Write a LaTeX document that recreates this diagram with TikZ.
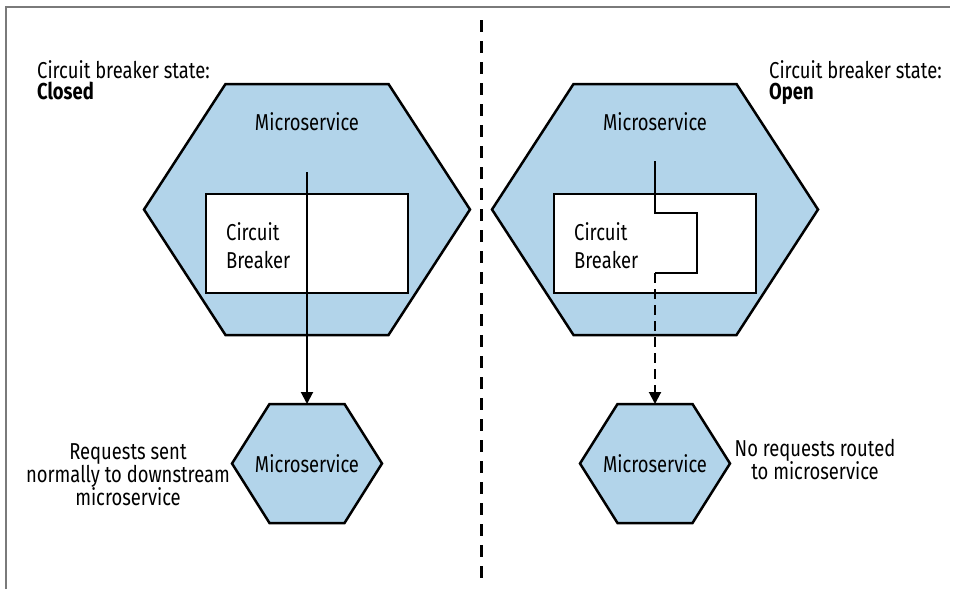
\documentclass[tikz,border=0pt]{standalone}
\usepackage{fontspec}
\setmainfont{Fira Sans}[FakeStretch=0.80]
\usepackage{tikz}
\usetikzlibrary{arrows.meta, positioning, calc, backgrounds}
\definecolor{svcblue}{HTML}{B2D4EA}
\definecolor{framegray}{HTML}{7A7A7A}

\begin{document}
\begin{tikzpicture}[
    x=1pt, y=-1pt,
    every node/.style={font=\fontsize{23}{23}\selectfont},
    hexcell/.style={
        inner sep=0pt, outer sep=0pt,
        minimum width=#1
    },
    hexline/.style={draw=black, fill=svcblue, line width=2.5pt, line join=miter},
    cbbox/.style={
        rectangle, draw=black, fill=white, line width=2.5pt,
        minimum width=202pt, minimum height=99pt, inner sep=0pt
    },
    note/.style={align=center, inner sep=0pt},
    state/.style={align=left, anchor=north west, inner sep=0pt,
        font=\fontsize{23}{21.5}\selectfont},
    wire/.style={line width=2pt, black},
    flow/.style={wire, -{Triangle[length=12pt, width=12pt]}},
    divider/.style={line width=3pt, dash pattern=on 12pt off 9pt}
]
\useasboundingbox (0,0) rectangle (957,589);
\draw[framegray, line width=1.5pt] (6,589) -- (6,7) -- (950,7);

\node[state] (stateA) at (37,60) {Circuit breaker state:\\\textbf{Closed}};
\node[state] (stateB) at (769,60) {Circuit breaker state:\\\textbf{Open}};

\node[hexcell=326pt, minimum height=251pt] (bigA) at (307,209.5) {};
\node[hexcell=326pt, minimum height=251pt] (bigB) at (655,209.5) {};
\node (svcLabelA) at (307,122) {Microservice};
\node (svcLabelB) at (655,122) {Microservice};

\node[cbbox] (cbA) at (307,243.5) {};
\node[cbbox] (cbB) at (655,243.5) {};
\node[align=left, anchor=west, inner sep=0pt] (cbLabelA) at (226,246) {Circuit\\[5pt]Breaker};
\node[align=left, anchor=west, inner sep=0pt] (cbLabelB) at (574,246) {Circuit\\[5pt]Breaker};

\node[hexcell=150pt, minimum height=119pt] (svcA) at (307,463.5) {Microservice};
\node[hexcell=150pt, minimum height=119pt] (svcB) at (655,463.5) {Microservice};

\node[note] (noteA) at (128,475) {Requests sent\\normally to downstream\\microservice};
\node[note] (noteB) at (815,460) {No requests routed\\to microservice};

\begin{scope}[on background layer]
\foreach \h in {bigA, bigB, svcA, svcB}
  \draw[hexline] (\h.west)
    -- ($(\h.north west)!.25!(\h.north east)$)
    -- ($(\h.north west)!.75!(\h.north east)$)
    -- (\h.east)
    -- ($(\h.south west)!.75!(\h.south east)$)
    -- ($(\h.south west)!.25!(\h.south east)$)
    -- cycle;
\end{scope}

\coordinate (inA) at (307,172);
\coordinate (inB) at (655,161);
\coordinate (brkB) at (655,273);
\draw[flow] (inA) -- (svcA.north);
\draw[wire] (inB) -- ++(0,52) -- ++(42,0) -- ++(0,60) -- (brkB);
\draw[flow, dashed, dash pattern=on 10pt off 6pt] (brkB) -- (svcB.north);

\coordinate (divTop) at (481,20);
\coordinate (divBot) at (481,580);
\draw[divider] (divTop) -- (divBot);
\end{tikzpicture}
\end{document}
